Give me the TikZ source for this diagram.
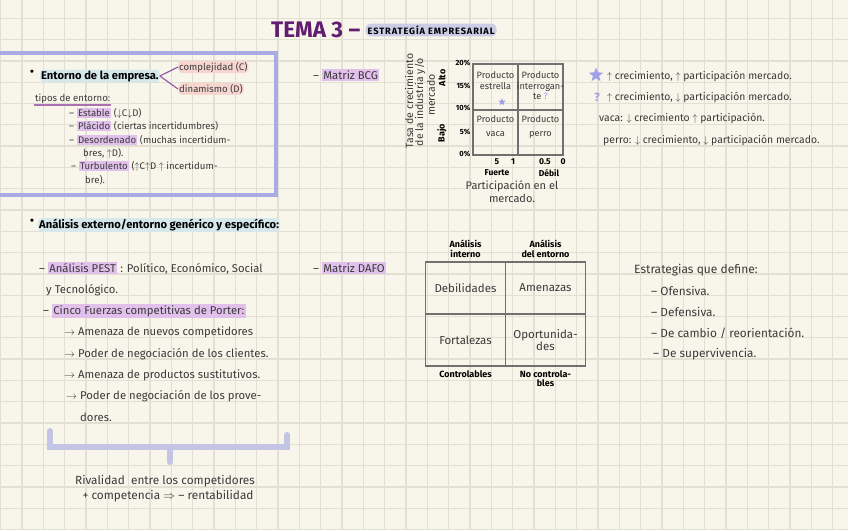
\documentclass[tikz,border=0pt]{standalone}
\usepackage{fontspec}
\setmainfont{Fira Sans}
\usepackage{xcolor}
\usetikzlibrary{positioning,shapes.geometric}
\definecolor{paper}{RGB}{248,246,234}
\definecolor{gridc}{RGB}{227,224,211}
\definecolor{ink}{RGB}{58,58,58}
\definecolor{framec}{RGB}{170,170,228}
\definecolor{titlec}{RGB}{98,28,112}
\definecolor{hlblue}{RGB}{214,232,236}
\definecolor{hlpink}{RGB}{246,214,206}
\definecolor{hlpur}{RGB}{226,192,236}
\definecolor{hltit}{RGB}{204,204,230}
\definecolor{brkc}{RGB}{196,196,228}
\definecolor{mline}{RGB}{112,112,112}
\definecolor{starc}{RGB}{160,160,232}
\definecolor{linkc}{RGB}{150,92,172}
\newcommand\hl[2]{{\fboxsep=1.3pt\colorbox{#1}{#2}}}
\newcommand\up{$\uparrow$}
\newcommand\dn{$\downarrow$}

\begin{document}
\begin{tikzpicture}[x=1pt, y=-1pt,
  t/.style={anchor=west, inner sep=1pt, text=ink, font=\fontsize{11.3}{13}\selectfont},
  tb/.style={t, font=\fontsize{9.6}{11}\selectfont},
  tr/.style={t, font=\fontsize{10.4}{12}\selectfont},
  hd/.style={t, text=black, font=\fontsize{11.2}{13}\selectfont\bfseries},
  sm/.style={inner sep=0.5pt, text=black, font=\fontsize{7.5}{8}\selectfont\bfseries},
  lb/.style={sm, align=center, font=\fontsize{9}{9.5}\selectfont\bfseries},
  ct/.style={inner sep=0pt, align=center, text=ink, font=\fontsize{9.2}{10.5}\selectfont},
  dt/.style={inner sep=0pt, align=center, text=ink, font=\fontsize{11.5}{12.5}\selectfont},
  ax/.style={inner sep=0pt, rotate=90, text=ink, font=\fontsize{10.5}{11}\selectfont},
  bcg/.style={draw=mline, line width=1.6pt, minimum width=45pt, minimum height=45.5pt, inner sep=0pt},
  dafo/.style={draw=mline, line width=1.6pt, minimum width=80pt, minimum height=52pt, inner sep=0pt},
  mk/.style={star, star points=5, star point ratio=2.3, fill=starc, inner sep=0pt},
  lk/.style={draw=linkc, line width=1.2pt},
  brk/.style={draw=brkc, line width=6pt, line cap=round},
]
\useasboundingbox (0,0) rectangle (848,530);
\clip (0,0) rectangle (848,530);
\fill[paper] (0,0) rectangle (848,530);
\foreach \i in {0,...,39}
  \draw[gridc, line width=1.3pt] ({0.64+21.33*\i},0) -- ({0.64+21.33*\i},530);
\foreach \i in {0,...,24}
  \draw[gridc, line width=1.3pt] (0,{18.3+21.3*\i}) -- (848,{18.3+21.3*\i});

\node[anchor=west, inner sep=0pt, text=titlec, font=\fontsize{22.5}{24}\selectfont\bfseries] (tema) at (271,30) {TEMA 3 --};
\node[right=5pt of tema, fill=hltit, rounded corners=5pt, inner sep=2pt, font=\fontsize{9.2}{10}\selectfont\bfseries\addfontfeature{LetterSpace=10}] (sub) {ESTRATEGÍA EMPRESARIAL};

\draw[framec, line width=4.5pt] (-10,53) rectangle (276,195);
\node[hd] (b1) at (29,73) {\textbullet};
\node[hd, fill=hlblue, rounded corners=4pt] (ent) at (40,76) {Entorno de la empresa.};
\node[tb, fill=hlpink, rounded corners=4pt] (comp) at (178,67) {complejidad (C)};
\node[tb, fill=hlpink, rounded corners=4pt] (din) at (178,89) {dinamismo (D)};
\draw[lk] (ent.east) -- (comp.west);
\draw[lk] (ent.east) -- (din.west);
\node[tb] (tipos) at (34,99) {tipos de entorno:};
\draw[draw=linkc!80!pink, line width=1.2pt] (tipos.south west) -- (tipos.south east);
\node[tb] (e1) at (68,113) {-- \hl{hlpur}{Estable} (\dn C\dn D)};
\node[tb] (e2) at (68,126) {-- \hl{hlpur}{Plácido} (ciertas incertidumbres)};
\node[tb] (e3) at (68,140) {-- \hl{hlpur}{Desordenado} (muchas incertidum-};
\node[tb] (e3b) at (82,153) {bres, \up D).};
\node[tb] (e4) at (70,166) {-- \hl{hlpur}{Turbulento} (\up C\up D \up\ incertidum-};
\node[tb] (e4b) at (84,180) {bre).};

\node[hd] (b2) at (29,222) {\textbullet};
\node[hd, fill=hlblue, rounded corners=4pt] (an) at (38,225) {Análisis externo/entorno genérico y específico:};
\node[t] (pest) at (38,268) {-- \hl{hlpur}{Análisis PEST} : Político, Económico, Social};
\node[t] (pest2) at (45,290) {y Tecnológico.};
\node[t] (por) at (42,311) {-- \hl{hlpur}{Cinco Fuerzas competitivas de Porter:}};
\node[t] (f1) at (63,332) {$\rightarrow$ Amenaza de nuevos competidores};
\node[t] (f2) at (63,354) {$\rightarrow$ Poder de negociación de los clientes.};
\node[t] (f3) at (63,375) {$\rightarrow$ Amenaza de productos sustitutivos.};
\node[t] (f4) at (65,396) {$\rightarrow$ Poder de negociación de los prove-};
\node[t] (f4b) at (79,417) {dores.};
\coordinate (bL) at (50,431);
\coordinate (bl) at (50,447);
\coordinate (br) at (287,447);
\coordinate (bR) at (287,435);
\coordinate (bm) at (170,447);
\coordinate (bs) at (170,462);
\draw[brk] (bL) -- (bl) -- (br) -- (bR);
\draw[brk] (bm) -- (bs);
\node[t, anchor=center, font=\fontsize{11.8}{13}\selectfont] (riv) at (165,481) {Rivalidad\ \ entre los competidores};
\node[t, anchor=center, font=\fontsize{11.8}{13}\selectfont] (riv2) at (168,496) {+ competencia $\Rightarrow$ -- rentabilidad};

\node[t] (mbcg) at (312,75) {-- \hl{hlpur}{Matriz BCG}};
\node[bcg] (c11) at (495.5,87) {};
\node[bcg] (c12) at (540.5,87) {};
\node[bcg] (c21) at (495.5,132.5) {};
\node[bcg] (c22) at (540.5,132.5) {};
\node[ct, below=8pt of c11.north] (pes) {Producto\\estrella};
\node[mk, minimum size=8pt] (s1) at (502,102) {};
\node[ct, below=8pt of c12.north] (pin) {Producto\\interrogan-\\te \textcolor{starc}{?}};
\node[ct, below=6pt of c21.north] (pva) {Producto\\[4pt]vaca};
\node[ct, below=6pt of c22.north] (ppe) {Producto\\[4pt]perro};
\node[sm, anchor=east] (y20) at (471,63) {20\%};
\node[sm, anchor=east] (y15) at (471,86) {15\%};
\node[sm, anchor=east] (y10) at (471,108) {10\%};
\node[sm, anchor=east] (y5) at (471,132) {5\%};
\node[sm, anchor=east] (y0) at (471,154) {0\%};
\node[lb, rotate=90] (alto) at (442,78) {Alto};
\node[lb, rotate=90] (bajo) at (442,133) {Bajo};
\node[ax] (tasa1) at (409,101) {Tasa de crecimiento};
\node[ax] (tasa2) at (420,102) {de la industria y/o};
\node[ax] (tasa3) at (431,95) {mercado};
\node[sm, font=\fontsize{8.5}{9}\selectfont\bfseries] (x5) at (497,162) {5};
\node[sm, font=\fontsize{8.5}{9}\selectfont\bfseries] (x1) at (513,162) {1};
\node[sm, font=\fontsize{8.5}{9}\selectfont\bfseries] (x05) at (545,162) {0.5};
\node[sm, font=\fontsize{8.5}{9}\selectfont\bfseries] (x0) at (563,162) {0};
\node[lb, font=\fontsize{8.5}{9}\selectfont\bfseries] (fue) at (497,173) {Fuerte};
\node[lb, font=\fontsize{8.5}{9}\selectfont\bfseries] (deb) at (549,173) {Débil};
\node[ct, font=\fontsize{11}{13}\selectfont] (part) at (512,192) {Participación en el\\mercado.};

\node[mk, minimum size=15pt] (s2) at (596,75) {};
\node[tr] (l1) at (606,76) {\up\ crecimiento, \up\ participación mercado.};
\node[tr, text=starc, font=\fontsize{12}{13}\selectfont\bfseries] (q) at (593,97) {?};
\node[tr] (l2) at (606,97) {\up\ crecimiento, \dn\ participación mercado.};
\node[tr] (l3) at (598,118) {vaca: \dn\ crecimiento \up\ participación.};
\node[tr] (l4) at (602,140) {perro: \dn\ crecimiento, \dn\ participación mercado.};

\node[t] (mdafo) at (312,268) {-- \hl{hlpur}{Matriz DAFO}};
\node[dafo] (d11) at (465.5,288) {};
\node[dafo] (d12) at (545.5,288) {};
\node[dafo] (d21) at (465.5,340) {};
\node[dafo] (d22) at (545.5,340) {};
\node[dt] (deb2) at (d11) {Debilidades};
\node[dt] (ame) at (d12) {Amenazas};
\node[dt] (fort) at (d21) {Fortalezas};
\node[dt] (opo) at (d22) {Oportunida-\\des};
\node[lb, above=3pt of d11.north] (aint) {Análisis\\interno};
\node[lb, above=3pt of d12.north] (aent) {Análisis\\del entorno};
\node[lb, below=3pt of d21.south] (cont) {Controlables};
\node[lb, below=3pt of d22.south] (ncont) {No controla-\\bles};

\node[t, font=\fontsize{12}{13}\selectfont] (est) at (633,270) {Estrategias que define:};
\node[t, font=\fontsize{11.8}{13}\selectfont] (o1) at (650,291) {-- Ofensiva.};
\node[t, font=\fontsize{11.8}{13}\selectfont] (o2) at (650,312) {-- Defensiva.};
\node[t, font=\fontsize{11.8}{13}\selectfont] (o3) at (650,333) {-- De cambio / reorientación.};
\node[t, font=\fontsize{11.8}{13}\selectfont] (o4) at (652,354) {-- De supervivencia.};
\end{tikzpicture}
\end{document}
